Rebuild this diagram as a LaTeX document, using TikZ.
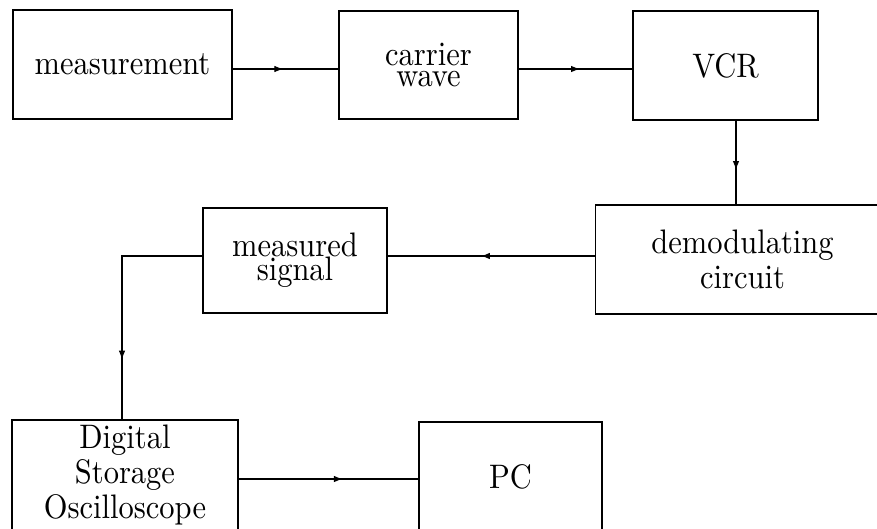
\documentclass[tikz,border=0pt]{standalone}
\usepackage{fontspec}
\usetikzlibrary{arrows.meta,decorations.markings}
\newcommand\blklbl[2]{\scalebox{3.05}[3.4]{\rmfamily\addfontfeatures{FakeBold=0.6}\vbox{\lineskiplimit=-20pt\baselineskip=#1\halign{\hfil##\hfil\cr#2\crcr}}}}
\tikzset{
  blk/.style={draw, line width=1.3pt, inner sep=0pt, align=center},
  conn/.style={line width=1.1pt, postaction={decorate},
    decoration={markings, mark=at position #1 with {\arrow{Latex[length=9pt,width=6.5pt]}}}}
}
\begin{document}
\begin{tikzpicture}[x=1pt,y=-1pt]
\useasboundingbox[fill=white] (0,0) rectangle (877,528);
\node[blk, minimum width=219pt, minimum height=109pt] (meas) at (122.5,64.5) {\blklbl{12pt}{measurement}};
\node[blk, minimum width=179pt, minimum height=108pt] (carr) at (428.5,65) {\blklbl{6.3pt}{carrier\cr wave}};
\node[blk, minimum width=185pt, minimum height=109pt] (vcr) at (725.5,65.5) {\blklbl{12pt}{VCR}};
\node[blk, minimum width=294pt, minimum height=109pt] (demod) at (742.5,259.5) {\blklbl{10.3pt}{demodulating\cr circuit}};
\node[blk, minimum width=184pt, minimum height=105pt] (msig) at (295,260.5) {\blklbl{7.1pt}{measured\cr signal}};
\node[blk, minimum width=226pt, minimum height=110pt] (dso) at (125,475) {\blklbl{10.3pt}{Digital\cr Storage\cr Oscilloscope}};
\node[blk, minimum width=183pt, minimum height=110pt] (pc) at (510.5,477) {\blklbl{12pt}{PC}};
\draw[conn=0.48] ([yshift=-4.5pt]meas.east) -- ([yshift=-4.5pt]meas.east -| carr.west);
\draw[conn=0.54] ([yshift=-4pt]carr.east) -- ([yshift=-4pt]carr.east -| vcr.west);
\draw[conn=0.59] ([xshift=10.5pt]vcr.south) -- ([xshift=10.5pt]vcr.south |- demod.north);
\draw[conn=0.55] ([yshift=3.5pt]demod.west) -- ([yshift=3.5pt]demod.west -| msig.east);
\draw[conn=0.755] ([yshift=4.5pt]msig.west) -| ([xshift=-3pt]dso.north);
\draw[conn=0.58] ([yshift=-4pt]dso.east) -- ([yshift=-4pt]dso.east -| pc.west);
\end{tikzpicture}
\end{document}
